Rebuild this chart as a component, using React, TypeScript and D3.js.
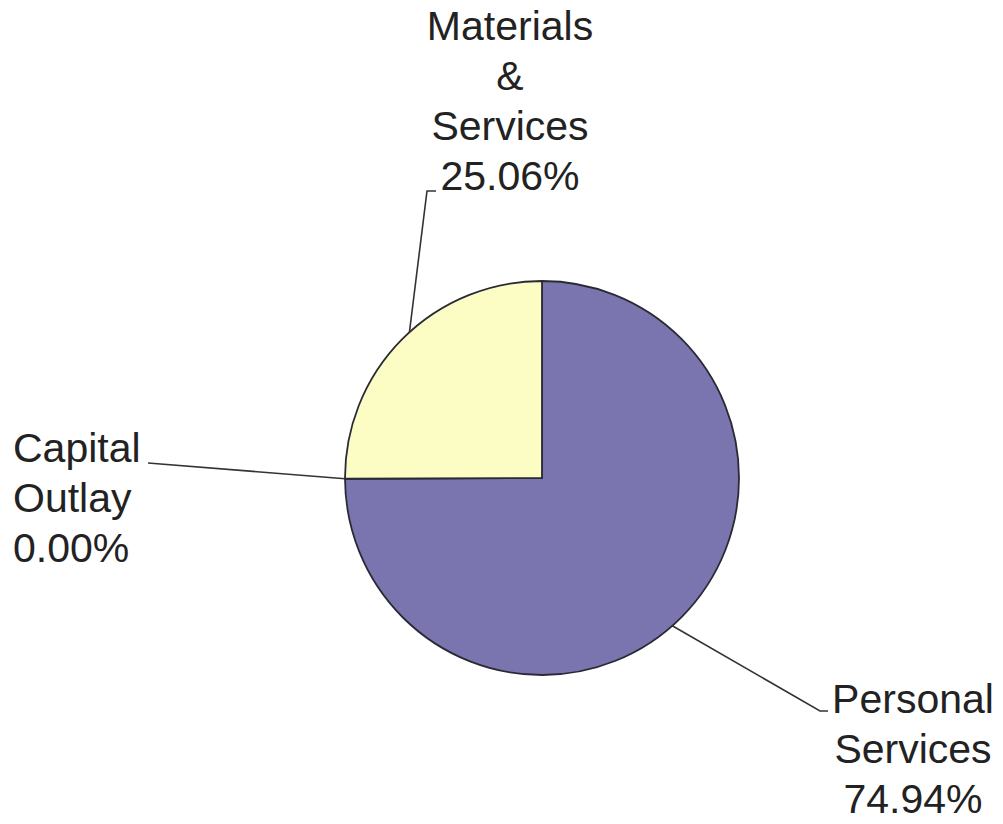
import React from "react";
import * as d3 from "d3";

const categories = ["Personal Services", "Capital Outlay", "Materials & Services"];
const values = [74.94, 0.0, 25.06];
const labelLines = [
  ["Personal", "Services", "74.94%"],
  ["Capital", "Outlay", "0.00%"],
  ["Materials", "&", "Services", "25.06%"],
];
const colors = ["#7a75ae", "#7a75ae", "#fbfdc4"];

const W = 1003;
const H = 824;
const cx = 542;
const cy = 478;
const R = 197;

// label layout (positions only)
const labelLayout = [
  { x: 913, y: 713, anchor: "middle", leader: [[828, 711], [820, 711]] },
  { x: 13, y: 462, anchor: "start", leader: [[148, 463]] },
  { x: 510, y: 40, anchor: "middle", leader: [[436, 191], [427, 191]] },
];

export default function App() {
  const pie = d3.pie<number>().sort(null).value((d) => d);
  const arcs = pie(values);
  const arc = d3.arc<d3.PieArcDatum<number>>().innerRadius(0).outerRadius(R);
  const lineGen = d3.line();
  const lineH = 50;

  const edgeAngles = [Math.PI * 0.77, null, -Math.PI * 0.235];

  return (
    <svg
      width={W}
      height={H}
      style={{ position: "absolute", left: 0, top: 0, background: "#fff" }}
      fontFamily="'Liberation Sans', Arial, sans-serif"
    >
      <rect width={W} height={H} fill="#fff" />
      <g transform={`translate(${cx},${cy})`}>
        {arcs.map((a, i) =>
          a.endAngle - a.startAngle > 0 ? (
            <path key={i} d={arc(a) || ""} fill={colors[i]} stroke="#2a2a35" strokeWidth={1.8} />
          ) : null
        )}
      </g>
      {labelLayout.map((l, i) => {
        const a = edgeAngles[i] === null ? arcs[i].startAngle : (edgeAngles[i] as number);
        const start: [number, number] = [cx + R * Math.sin(a), cy - R * Math.cos(a)];
        const pts: [number, number][] = [start, ...(l.leader.slice().reverse() as [number, number][])];
        return (
          <g key={i}>
            <path d={lineGen(pts) || ""} fill="none" stroke="#333" strokeWidth={1.6} />
            {labelLines[i].map((t, j) => (
              <text
                key={j}
                x={l.x}
                y={l.y + j * lineH}
                textAnchor={l.anchor as any}
                fontSize={41}
                fill="#222"
              >
                {t}
              </text>
            ))}
          </g>
        );
      })}
    </svg>
  );
}
